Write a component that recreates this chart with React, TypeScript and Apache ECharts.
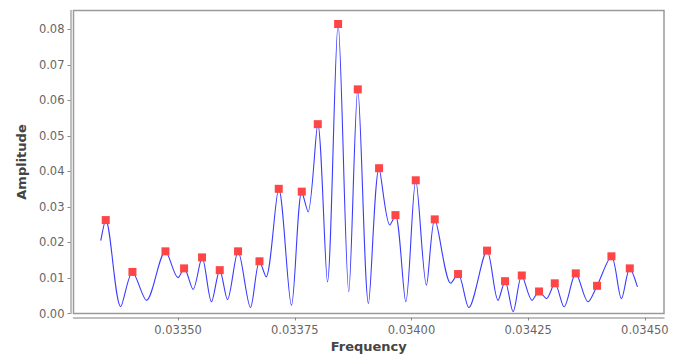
import React, { useEffect, useRef } from "react";
import * as echarts from "echarts";

const lineFreq = [
  0.0333344, 0.0333451, 0.0333772, 0.0334023, 0.0334323, 0.033473, 0.0335, 0.0335129,
  0.0335321, 0.0335514, 0.0335716, 0.0335893, 0.0336058, 0.0336285, 0.0336551, 0.0336744,
  0.0336885, 0.0337157, 0.0337429, 0.033765, 0.0337785, 0.0337993, 0.03382, 0.0338428,
  0.0338657, 0.033885, 0.0339079, 0.0339306, 0.0339535, 0.0339657, 0.0339878, 0.0340092,
  0.0340321, 0.0340499, 0.0340842, 0.0340998, 0.0341227, 0.0341619, 0.0341855, 0.0342005,
  0.0342177, 0.0342363, 0.0342584, 0.0342733, 0.0342892, 0.034307, 0.0343269, 0.034352,
  0.0343783, 0.0343976, 0.0344284, 0.0344499, 0.0344677, 0.0344841,
];
const lineAmp = [
  0.0205, 0.0263, 0.0019, 0.0117, 0.0037, 0.0175, 0.0101, 0.0127,
  0.0068, 0.0158, 0.0033, 0.0122, 0.0039, 0.0175, 0.0017, 0.0147,
  0.0103, 0.0351, 0.0023, 0.0343, 0.0286, 0.0533, 0.0089, 0.0815,
  0.0061, 0.0631, 0.0028, 0.0409, 0.0249, 0.0277, 0.0033, 0.0375,
  0.008, 0.0265, 0.0085, 0.0111, 0.0017, 0.0177, 0.0037, 0.0091,
  0.0005, 0.0107, 0.0037, 0.0062, 0.0042, 0.0085, 0.0019, 0.0113,
  0.0033, 0.0078, 0.0161, 0.0042, 0.0127, 0.0075,
];

const peakFreq = [
  0.0333451, 0.0334023, 0.033473, 0.0335129, 0.0335514, 0.0335893, 0.0336285, 0.0336744,
  0.0337157, 0.033765, 0.0337993, 0.0338428, 0.033885, 0.0339306, 0.0339657, 0.0340092,
  0.0340499, 0.0340998, 0.0341619, 0.0342005, 0.0342363, 0.0342733, 0.034307, 0.034352,
  0.0343976, 0.0344284, 0.0344677,
];
const peakAmp = [
  0.0263, 0.0117, 0.0175, 0.0127, 0.0158, 0.0122, 0.0175, 0.0147,
  0.0351, 0.0343, 0.0533, 0.0815, 0.0631, 0.0409, 0.0277, 0.0375,
  0.0265, 0.0111, 0.0177, 0.0091, 0.0107, 0.0062, 0.0085, 0.0113,
  0.0078, 0.0161, 0.0127,
];

const xTicks = [0.0335, 0.03375, 0.034, 0.03425, 0.0345];
const yTicks = [0, 0.01, 0.02, 0.03, 0.04, 0.05, 0.06, 0.07, 0.08];

export default function App() {
  const ref = useRef<HTMLDivElement>(null);
  useEffect(() => {
    if (!ref.current) return;
    const chart = echarts.init(ref.current, null, { renderer: "svg" });
    const font = "DejaVu Sans";
    chart.setOption({
      animation: false,
      backgroundColor: "#ffffff",
      grid: {
        left: 73.5,
        right: 15,
        top: 10.5,
        bottom: 42.5,
        show: true,
        borderColor: "#9a9a9a",
        borderWidth: 1.5,
        outerBoundsMode: "none",
        containLabel: false,
      },
      xAxis: {
        type: "value",
        min: 0.033276,
        max: 0.034541,
        offset: 4,
        name: "Frequency",
        nameLocation: "middle",
        nameGap: 21,
        nameTextStyle: { fontFamily: font, fontWeight: "bold", fontSize: 13, color: "#444" },
        axisLine: { show: true, onZero: false, lineStyle: { color: "#aaa", width: 1.5 } },
        axisTick: { show: true, length: 3, customValues: xTicks, lineStyle: { color: "#888" } },
        axisLabel: {
          customValues: xTicks,
          formatter: (v: number) => v.toFixed(5),
          fontFamily: font,
          fontSize: 11.5,
          color: "#666",
          margin: 6,
        },
        splitLine: { show: false },
      },
      yAxis: {
        type: "value",
        min: 0,
        max: 0.0853,
        offset: 3,
        name: "Amplitude",
        nameLocation: "middle",
        nameGap: 42,
        nameTextStyle: { fontFamily: font, fontWeight: "bold", fontSize: 13, color: "#444" },
        axisLine: { show: true, lineStyle: { color: "#aaa", width: 1.5 } },
        axisTick: { show: true, length: 3, customValues: yTicks, lineStyle: { color: "#888" } },
        axisLabel: {
          customValues: yTicks,
          formatter: (v: number) => v.toFixed(2),
          fontFamily: font,
          fontSize: 11.5,
          color: "#666",
          margin: 6,
        },
        splitLine: { show: false },
      },
      series: [
        {
          type: "line",
          data: lineFreq.map((f, i) => [f, lineAmp[i]]),
          showSymbol: false,
          smooth: 0.3,
          lineStyle: { color: "#3b3bff", width: 1.1 },
          silent: true,
          z: 2,
        },
        {
          type: "scatter",
          data: peakFreq.map((f, i) => [f, peakAmp[i]]),
          symbol: "rect",
          symbolSize: 8,
          itemStyle: { color: "#ff4545", opacity: 1 },
          silent: true,
          z: 5,
        },
      ],
    });
    return () => chart.dispose();
  }, []);
  return <div ref={ref} style={{ width: 679, height: 356, position: "absolute", left: 0, top: 0 }} />;
}
